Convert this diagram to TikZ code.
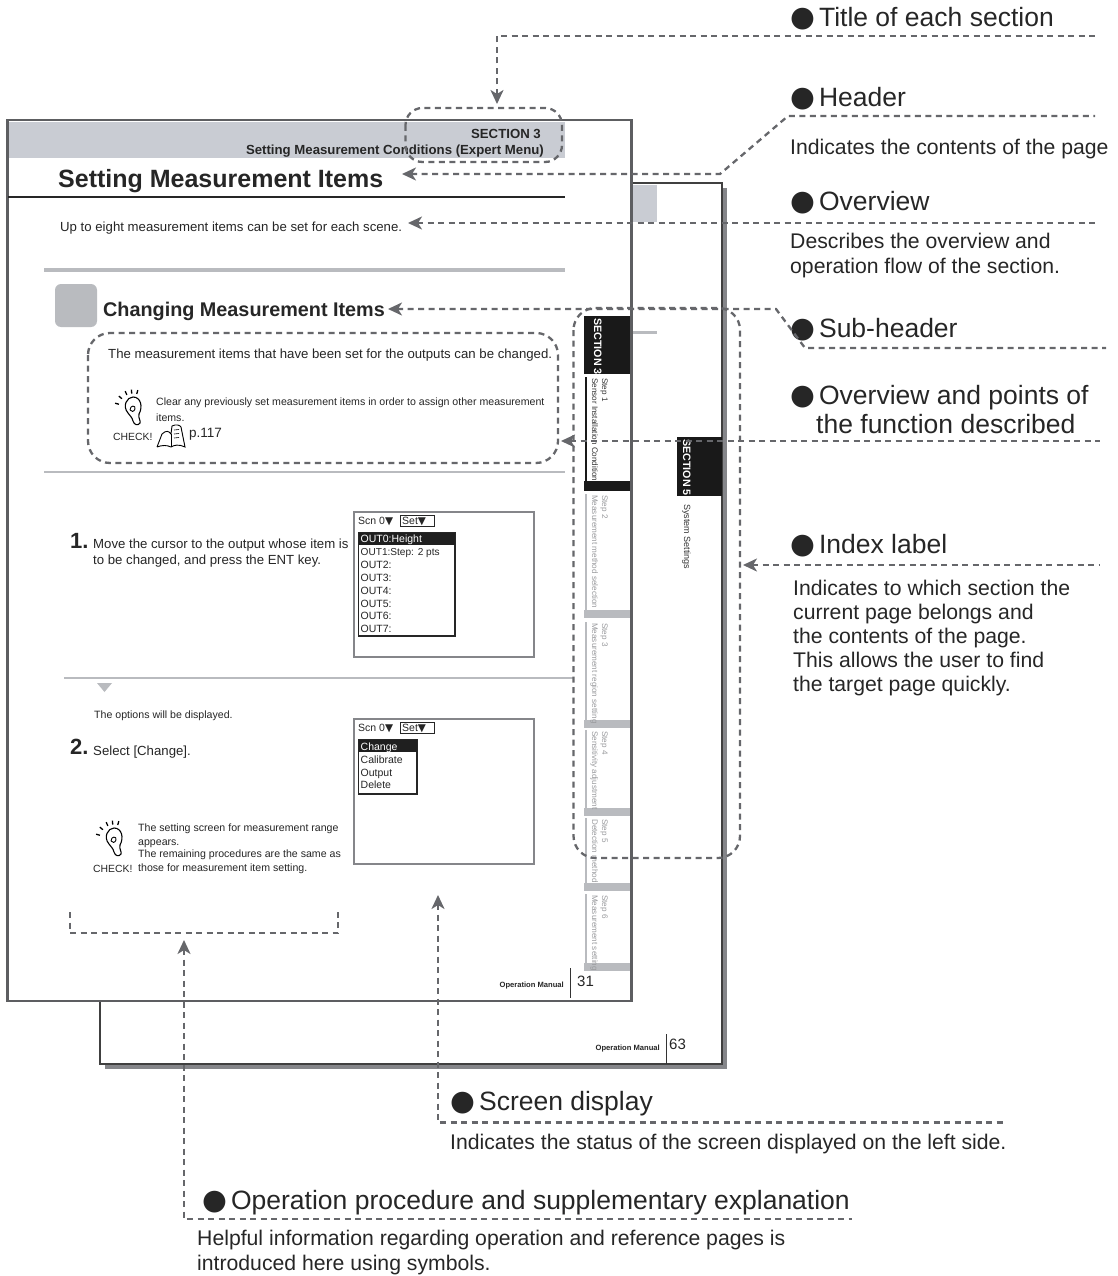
\documentclass[tikz,border=0pt]{standalone}
\usepackage{fontspec}
\setmainfont{Liberation Sans}
\newfontfamily\symfont{DejaVu Sans}
\usetikzlibrary{arrows.meta}

\definecolor{leadgray}{HTML}{66676B}
\definecolor{bandgray}{HTML}{C9CCD3}
\definecolor{rulegray}{HTML}{B9BBBF}
\definecolor{edgegray}{HTML}{85868A}
\definecolor{tabtext}{HTML}{9A9B9E}

\newcommand{\fsz}[1]{\fontsize{#1}{#1}\selectfont}
\newcommand{\blob}{{\symfont\fsz{28.5}\char"25CF}\hspace{4pt}}
\newcommand{\tri}{{\symfont\char"25BC}}

\tikzset{
  leader/.style={draw=leadgray, line width=2.3pt, dash pattern=on 6pt off 4.5pt},
  tipped/.style={leader, {Stealth[length=14pt,width=13pt,inset=4pt]}-},
  txt/.style={inner sep=0pt, anchor=base west, text=black!85},
  head/.style={txt, font=\fsz{26.5}},
  note/.style={inner sep=0pt, anchor=north west, align=left, text=black!85, font=\fontsize{21.2}{25}\selectfont},
  mono/.style={txt, font=\fsz{10.5}},
  tabtitle/.style={inner sep=0pt, anchor=base west, rotate=-90, font=\bfseries\fsz{10.7}},
  tabsmall/.style={inner sep=0pt, anchor=base west, rotate=-90, font=\fsz{8.1}},
  screen/.style={draw=edgegray, line width=2pt, fill=white},
  bulb/.pic={
    \draw[line width=1.1pt] (-5,5) .. controls (-11,-2) and (-6,-11) .. (0,-11) .. controls (8,-11) and (10,-1) .. (6,6) .. controls (5,10) and (8,13) .. (7,15) .. controls (5,18) and (1,17) .. (0,13) .. controls (-1,9) and (-3,8) .. (-5,5);
    \draw[line width=0.9pt] (-3,2) .. controls (-3,-3) and (3,-3) .. (2,1) .. controls (1,4) and (-2,4) .. (-3,2);
    \foreach \a in {-165,-140,-115,-95,-75}
      \draw[line width=1.3pt] (\a:14.5) -- (\a:18.5);
  },
  bookicon/.pic={
    \draw[line width=0.9pt] (-14,11) -- (-9,-2) .. controls (-5,-6) and (-2,-5) .. (0,-2) -- (1,-10) .. controls (5,-12) and (9,-11) .. (10,-9) -- (14,11) .. controls (8,8) and (3,9) .. (0,11) .. controls (-4,9) and (-9,9) .. (-14,11);
    \draw[line width=0.9pt] (0,-2) -- (0,11);
    \foreach \y in {-6,-2,2}
      \draw[line width=0.6pt] (3,\y) -- (8,\y-0.5);
  }
}

\begin{document}
\begin{tikzpicture}[x=1pt,y=-1pt]

    % Fix the page to the size of the picture
    \useasboundingbox (0,0) rectangle (1118,1276);

    % Back page with its shadow
    \fill[edgegray] (105,188) rectangle (727,1069);
    \draw[fill=white, line width=1.1pt, draw=black!75] (100,183) rectangle (722,1064);
    \fill[bandgray] (632,185) rectangle (657,222);
    \fill[rulegray] (632,331) rectangle (657,334);

    % Section tab of the back page
    \fill[black!90] (677,437) rectangle (721.5,496);
    \node[tabtitle, text=white] (backtab) at (683,439) {SECTION 5};
    \node[tabsmall, text=black!80, font=\fsz{9}] (backname) at (684,504) {System Settings};

    % Footer of the back page
    \node[txt, anchor=base east, font=\bfseries\fsz{7.6}] (backman) at (660,1050) {Operation Manual};
    \draw[line width=0.9pt, black!80] (666,1034) -- (666,1064);
    \node[txt, font=\fsz{15}] (backnum) at (669,1049) {63};

    % Front page
    \fill[edgegray!70!black] (6,119.5) rectangle (633,1001.5);
    \fill[white] (8.5,121) rectangle (629.5,1000);
    \fill[bandgray] (8.5,122) rectangle (565,158);

    % Header and title of the front page
    \node[txt, anchor=base east, font=\bfseries\fsz{13.2}] (secnum) at (541,139) {SECTION 3};
    \node[txt, anchor=base east, font=\bfseries\fsz{13.2}] (secname) at (544,155) {Setting Measurement Conditions (Expert Menu)};
    \node[txt, font=\bfseries\fsz{25}] (pagetitle) at (58,188) {Setting Measurement Items};
    \draw[black!85, line width=2pt] (8,197) -- (565,197);
    \node[txt, font=\fsz{13.2}] (overview) at (60,231) {Up to eight measurement items can be set for each scene.};
    \draw[rulegray, line width=3.5pt] (44,270) -- (565,270);

    % Sub-header
    \fill[rulegray, rounded corners=6pt] (55,284) rectangle (97,327);
    \node[txt, font=\bfseries\fsz{19.8}] (subhead) at (103,316) {Changing Measurement Items};
    \node[txt, font=\fsz{13.2}] (points) at (108,358) {The measurement items that have been set for the outputs can be changed.};
    \node[txt, font=\fsz{10.6}] (clear) at (156,405) {Clear any previously set measurement items in order to assign other measurement};
    \node[txt, font=\fsz{10.6}] (clearb) at (156,421) {items.};
    \pic at (133,408) {bulb};
    \node[txt, font=\fsz{10.4}] (checka) at (113,440) {CHECK!};
    \pic at (171,436) {bookicon};
    \node[txt, font=\fsz{13.5}] (pageref) at (189,437) {p.117};
    \draw[rulegray, line width=2.5pt] (44,472) -- (565,472);

    % Step one and its screen
    \node[txt, font=\bfseries\fsz{22}] (oneno) at (70,548) {1.};
    \node[txt, font=\fsz{13.2}] (onea) at (93,548) {Move the cursor to the output whose item is};
    \node[txt, font=\fsz{13.2}] (oneb) at (93,564) {to be changed, and press the ENT key.};
    \draw[screen] (353.5,511.5) rectangle (533.5,656.5);
    \node[mono] (scna) at (358,524) {Scn 0\tri};
    \draw[line width=0.9pt, black!85] (400,515.5) rectangle (434,526);
    \node[mono] (seta) at (402,524) {Set\tri};
    \draw[line width=1.1pt, black!85] (358.5,532.5) rectangle (455,636);
    \fill[black!88] (358.5,532.5) rectangle (455,544.5);
    \node[mono, text=white] (outrow) at (360.5,542) {OUT0:Height};
    \node[mono, font=\fsz{10.1}] (outrowb) at (360.5,555) {OUT1:Step: 2 pts};
    \foreach \n/\y in {2/568,3/581,4/594,5/607,6/619,7/632}
      \node[mono] (out\n) at (360.5,\y) {OUT\n:};

    % Rule between the steps
    \draw[rulegray, line width=2pt] (64,678) -- (574,678);
    \fill[rulegray] (97,683) -- (112,683) -- (104.5,692) -- cycle;
    \node[txt, font=\fsz{10.6}] (options) at (94,718) {The options will be displayed.};

    % Step two and its screen
    \node[txt, font=\bfseries\fsz{22}] (twono) at (70,754) {2.};
    \node[txt, font=\fsz{13.2}] (twoa) at (93,755) {Select [Change].};
    \draw[screen] (353.5,718.5) rectangle (533.5,864);
    \node[mono] (scnb) at (358,731) {Scn 0\tri};
    \draw[line width=0.9pt, black!85] (400,722.5) rectangle (434,733);
    \node[mono] (setb) at (402,731) {Set\tri};
    \draw[line width=1.1pt, black!85] (358.5,739.5) rectangle (417,794);
    \fill[black!88] (358.5,739.5) rectangle (417,751.5);
    \node[mono, text=white] (chg) at (360.5,750) {Change};
    \foreach \n/\t/\y in {cal/Calibrate/763,outp/Output/776,del/Delete/788}
      \node[mono] (\n) at (360.5,\y) {\t};

    % Hint beside the second step
    \pic at (114,839) {bulb};
    \node[txt, font=\fsz{10.6}] (hinta) at (138,831) {The setting screen for measurement range};
    \node[txt, font=\fsz{10.6}] (hintb) at (138,845) {appears.};
    \node[txt, font=\fsz{10.6}] (hintc) at (138,857) {The remaining procedures are the same as};
    \node[txt, font=\fsz{10.6}] (hintd) at (138,871) {those for measurement item setting.};
    \node[txt, font=\fsz{10.4}] (checkb) at (93,872) {CHECK!};

    % Footer of the front page
    \node[txt, anchor=base east, font=\bfseries\fsz{7.6}] (frontman) at (564,987) {Operation Manual};
    \draw[line width=0.9pt, black!80] (570,968) -- (570,998);
    \node[txt, font=\fsz{15}] (frontnum) at (577,986) {31};

    % Index tabs along the front page
    \fill[black!90] (584,316) rectangle (629.5,374);
    \node[tabtitle, text=white] (tabsec) at (594,318) {SECTION 3};
    \draw[black!90, line width=2pt] (585.5,377) -- (585.5,482);
    \fill[black!90] (584,481) rectangle (629.5,491);
    \node[tabsmall, text=black!80] (stepa) at (602,378) {Step 1};
    \node[tabsmall, text=black!80] (stepb) at (592,378) {Sensor Installation Condition};

    % The grey tabs: first row, last row, step, name
    \foreach \a/\b/\n/\t in {494/610/2/Measurement method selection,
                             622/720/3/Measurement region setting,
                             730/808/4/Sensitivity adjustment,
                             818/883/5/Detection method,
                             894/963/6/Measurement setting}{
      \draw[rulegray, line width=2pt] (585.5,\a) -- (585.5,\b);
      \fill[rulegray] (584,\b) rectangle (629.5,\b+7.5);
      \node[tabsmall, text=tabtext] (stepno\n) at (602,\a+1) {Step \n};
      \node[tabsmall, text=tabtext] (stepname\n) at (592,\a+1) {\t};
    }

    % Callout texts on the right
    \node[head] (hTitle) at (790,27) {\blob Title of each section};
    \node[head] (hHeader) at (790,107) {\blob Header};
    \node[note, anchor=base west] (nHeader) at (790,155) {Indicates the contents of the page};
    \node[head] (hOver) at (790,211) {\blob Overview};
    \node[note] (nOver) at (790,232.5) {Describes the overview and\\operation flow of the section.};
    \node[head] (hSub) at (790,337) {\blob Sub-header};
    \node[head] (hPoints) at (790,404) {\blob Overview and points of};
    \node[head] (hPointsb) at (816,433) {the function described};
    \node[head] (hIndex) at (790,553) {\blob Index label};
    \node[note, font=\fontsize{21.2}{24}\selectfont] (nIndex) at (793,579.5) {Indicates to which section the\\current page belongs and\\the contents of the page.\\This allows the user to find\\the target page quickly.};
    \node[head] (hScreen) at (450,1110) {\blob Screen display};
    \node[note, anchor=base west] (nScreen) at (450,1149) {Indicates the status of the screen displayed on the left side.};
    \node[head] (hOper) at (202,1209) {\blob Operation procedure and supplementary explanation};
    \node[note] (nOper) at (197,1230) {Helpful information regarding operation and reference pages is\\introduced here using symbols.};

    % Dashed outlines
    \draw[leader, rounded corners=17pt] (405.5,108) rectangle (562,162);
    \draw[leader, rounded corners=22pt] (88,333) rectangle (558,463);
    \draw[leader, rounded corners=22pt] (573.5,308) rectangle (740,858);
    \draw[leader] (70,912) -- (70,933) -- (338,933) -- (338,912);

    % Free ends of the leaders
    \coordinate (tipTitle) at (497,104);
    \coordinate (tipHeader) at (402,174);
    \coordinate (tipOver) at (408,223);
    \coordinate (tipSub) at (388,309);
    \coordinate (tipPoints) at (561,441);
    \coordinate (tipIndex) at (743,565);
    \coordinate (tipScreen) at (438,895);
    \coordinate (tipOper) at (184,940);

    % Leaders from the callouts to what they name
    \draw[tipped] (tipTitle) |- (1098,36);
    \draw[tipped] (tipHeader) -- (720,174) -- (788,116) -- (1095,116);
    \draw[tipped] (tipOver) -- (1098,223);
    \draw[tipped] (tipSub) -- (776,309) -- (805,348) -- (1106,348);
    \draw[tipped] (tipPoints) -- (1100,441);
    \draw[tipped] (tipIndex) -- (1100,565);
    \draw[tipped] (tipScreen) |- (1005,1122.5);
    \draw[tipped] (tipOper) |- (852,1219);

\end{tikzpicture}
\end{document}
